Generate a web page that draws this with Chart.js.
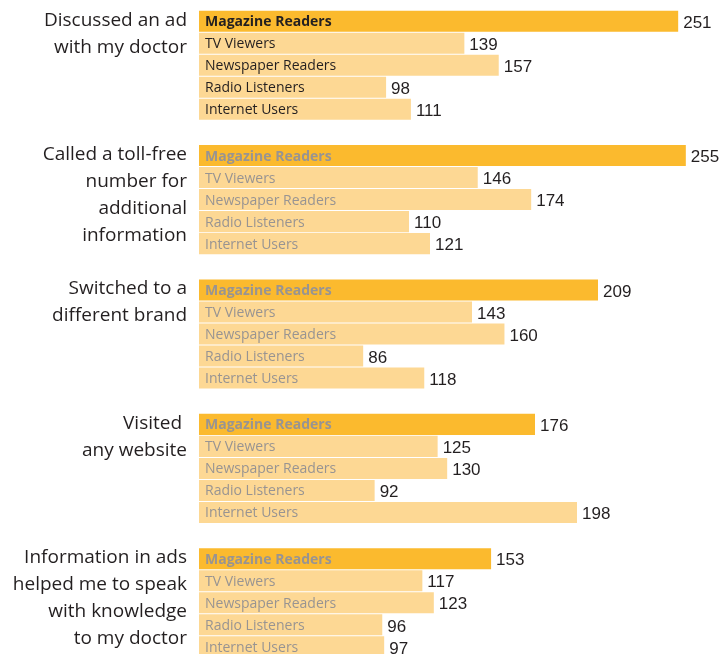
<!DOCTYPE html>
<html>
<head>
<meta charset="utf-8">
<script src="https://cdn.jsdelivr.net/npm/chart.js@4/dist/chart.umd.min.js"></script>
<style>
  html, body { margin: 0; padding: 0; background: #fff; overflow: hidden; }
  #wrap { position: relative; width: 724px; height: 654px; overflow: hidden; }
  #chart { position: absolute; left: 0; top: -2px; }
</style>
</head>
<body>
<div id="wrap"><canvas id="chart" width="724" height="672"></canvas></div>
<script>
// questions asked, one line per entry
const questions = [
    ['Discussed an ad', 'with my doctor'],
    ['Called a toll-free', 'number for', 'additional', 'information'],
    ['Switched to a', 'different brand'],
    ['Visited ', 'any website'],
    ['Information in ads', 'helped me to speak', 'with knowledge', 'to my doctor']
];

const seriesNames = ['Magazine Readers', 'TV Viewers', 'Newspaper Readers', 'Radio Listeners', 'Internet Users'];

const magazineReaders = [251, 255, 209, 176, 153];
const tvViewers = [139, 146, 143, 125, 117];
const newspaperReaders = [157, 174, 160, 130, 123];
const radioListeners = [98, 110, 86, 92, 96];
const internetUsers = [111, 121, 118, 198, 97];

const seriesValues = [magazineReaders, tvViewers, newspaperReaders, radioListeners, internetUsers];

const MAG_COLOR = '#fbba2e';
const OTHER_COLOR = '#fdd894';

const datasets = seriesNames.map((name, i) => ({
    label: name,
    data: seriesValues[i],
    backgroundColor: i === 0 ? MAG_COLOR : OTHER_COLOR,
    borderWidth: 0,
    categoryPercentage: 0.819,
    barPercentage: 0.955
}));

// series names inside the bars, values after them, questions on the left
const barText = {
    id: 'barText',
    afterDatasetsDraw(chart) {
        const ctx = chart.ctx;
        ctx.save();
        chart.data.datasets.forEach((ds, di) => {
            const meta = chart.getDatasetMeta(di);
            meta.data.forEach((bar, i) => {
                ctx.textBaseline = 'middle';
                ctx.textAlign = 'left';
                ctx.font = (di === 0 ? 'bold ' : '') + '14px "Open Sans"';
                ctx.fillStyle = i === 0 ? '#231f20' : '#989492';
                ctx.fillText(ds.label, bar.base + 6, bar.y + 1);

                ctx.font = '17px "Liberation Sans"';
                ctx.fillStyle = '#231f20';
                ctx.fillText(String(ds.data[i]), bar.x + 5, bar.y + 2);
            });
        });

        const first = chart.getDatasetMeta(0);
        ctx.font = '19px "Open Sans"';
        ctx.fillStyle = '#231f20';
        ctx.textAlign = 'right';
        ctx.textBaseline = 'alphabetic';
        questions.forEach((lines, i) => {
            const bar = first.data[i];
            const top = bar.y - bar.height / 2;
            lines.forEach((line, k) => {
                ctx.fillText(line, 187, top + 15 + k * 27);
            });
        });
        ctx.restore();
    }
};

new Chart(document.getElementById('chart'), {
    type: 'bar',
    data: {
        labels: questions.map(q => q.join(' ')),
        datasets: datasets
    },
    options: {
        indexAxis: 'y',
        responsive: false,
        animation: false,
        layout: { padding: { left: 199, right: 0, top: 0, bottom: 0 } },
        plugins: {
            legend: { display: false },
            tooltip: { enabled: false }
        },
        scales: {
            x: { display: false, min: 0, max: 275 },
            y: { display: false }
        }
    },
    plugins: [barText]
});
</script>
</body>
</html>
